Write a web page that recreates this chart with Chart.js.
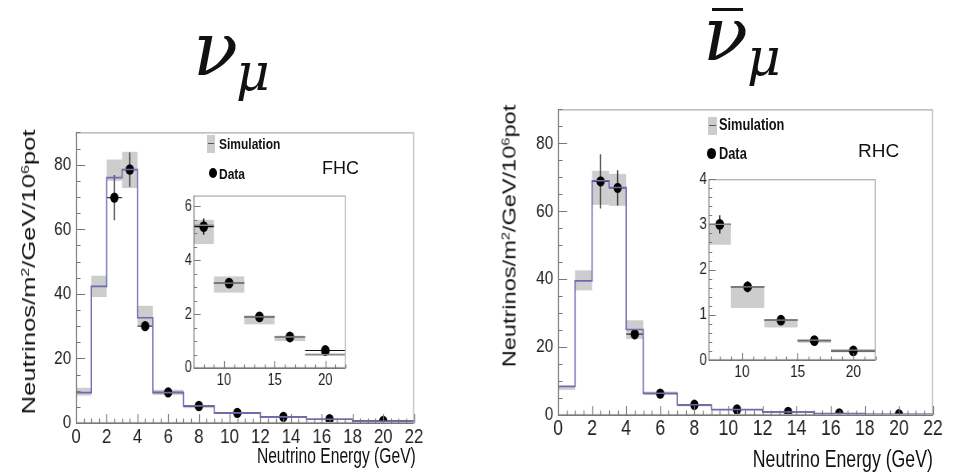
<!DOCTYPE html>
<html>
<head>
<meta charset="utf-8">
<script src="https://cdn.jsdelivr.net/npm/chart.js@4/dist/chart.umd.min.js"></script>
<style>
  body { margin: 0; background: #fff; width: 954px; height: 475px; position: relative; overflow: hidden;
         font-family: 'Liberation Sans', Arial, sans-serif; color: #111; }
  canvas, .abs { position: absolute; }
  .math { font-family: 'DejaVu Serif', 'Liberation Serif', serif; font-style: italic; line-height: 1; white-space: nowrap; }
  .leg { font-weight: bold; white-space: nowrap; line-height: 1; transform: scaleX(0.8); transform-origin: left center; }
  .ytitle { white-space: nowrap; line-height: 1; transform: translate(-50%, -50%) rotate(-90deg) scaleX(1.42); }
  .ytitle sup { font-size: 0.62em; line-height: 0; vertical-align: 0.55em; }
  .xtitle { white-space: nowrap; line-height: 1; transform-origin: right center; }
</style>
</head>
<body>

<!-- titles -->
<div class="abs math" style="left:193px; top:12px; font-size:74px;">ν</div>
<div class="abs math" style="left:236px; top:46px; font-size:52px;">μ</div>
<div class="abs" style="left:712px; top:8px; width:31px; height:3px; background:#111;"></div>
<div class="abs math" style="left:703px; top:-3px; font-size:74px;">ν</div>
<div class="abs math" style="left:747px; top:31px; font-size:52px;">μ</div>

<canvas id="fhcMain"></canvas>
<canvas id="fhcInset"></canvas>
<canvas id="rhcMain"></canvas>
<canvas id="rhcInset"></canvas>

<!-- FHC legend -->
<div class="abs" style="left:207px; top:135px; width:8px; height:18px; background:#cdcdcd;"></div>
<div class="abs" style="left:208px; top:143px; width:6px; height:1px; background:#555;"></div>
<div class="abs leg" style="left:219px; top:136px; font-size:15px;">Simulation</div>
<div class="abs" style="left:209px; top:168px; width:8px; height:10px; border-radius:50%; background:#000;"></div>
<div class="abs leg" style="left:219px; top:166px; font-size:15px;">Data</div>
<div class="abs" style="left:322px; top:159px; font-size:18px; line-height:1;">FHC</div>

<!-- RHC legend -->
<div class="abs" style="left:708px; top:117px; width:9px; height:18px; background:#cdcdcd;"></div>
<div class="abs" style="left:709px; top:125px; width:7px; height:1px; background:#555;"></div>
<div class="abs leg" style="left:719px; top:117px; font-size:16px;">Simulation</div>
<div class="abs" style="left:707px; top:148px; width:9px; height:11px; border-radius:50%; background:#000;"></div>
<div class="abs leg" style="left:719px; top:146px; font-size:16px;">Data</div>
<div class="abs" style="left:858px; top:141px; font-size:19px; line-height:1;">RHC</div>

<!-- axis titles -->
<div class="abs ytitle" style="left:29px; top:272px; font-size:18px;">Neutrinos/m<sup>2</sup>/GeV/10<sup>6</sup>pot</div>
<div class="abs ytitle" style="left:509px; top:236px; font-size:19px; transform: translate(-50%, -50%) rotate(-90deg) scaleX(1.24);">Neutrinos/m<sup>2</sup>/GeV/10<sup>6</sup>pot</div>
<div class="abs xtitle" style="right:538px; top:445px; font-size:22px; transform: scaleX(0.71);">Neutrino Energy (GeV)</div>
<div class="abs xtitle" style="right:21px; top:448px; font-size:23px; transform: scaleX(0.77);">Neutrino Energy (GeV)</div>

<script>
// bin edges (GeV)
const EDGES = [0, 1, 2, 3, 4, 5, 7, 9, 12, 15, 18, 22];

// FHC (neutrino mode)
const FHC_SIM    = [9.4, 42.3, 76, 78.5, 32.6, 9.4, 5.3, 3.15, 1.9, 1.15, 0.5];
const FHC_SIM_LO = [8.5, 39, 75, 72.8, 30.2, 8.7, 4.6, 2.8, 1.62, 1.0, 0.45];
const FHC_SIM_HI = [10.9, 45.6, 81.6, 84, 36.3, 10.3, 5.5, 3.4, 1.95, 1.2, 0.55];
const FHC_DATA   = [null, null, 69.8, 78.5, 30, 9.5, 5.25, 3.15, 1.9, 1.15, 0.65];
const FHC_ERR    = [null, null, 7, 5.3, 1.5, 0.5, 0.3, 0.12, 0.08, 0.06, 0.05];

// RHC (antineutrino mode)
const RHC_SIM    = [8.4, 39.5, 69, 67, 25.2, 6.4, 3.0, 1.62, 0.88, 0.44, 0.22];
const RHC_SIM_LO = [7.4, 36.7, 61.9, 61.6, 22.4, 6.0, 2.55, 1.15, 0.72, 0.38, 0.17];
const RHC_SIM_HI = [8.8, 42.6, 71.9, 71, 27.9, 6.9, 3.0, 1.62, 0.9, 0.45, 0.22];
const RHC_DATA   = [null, null, 68.8, 66.9, 23.8, 6.3, 3.0, 1.62, 0.88, 0.43, 0.2];
const RHC_ERR    = [null, null, 8, 5.2, 1.5, 0.4, 0.2, 0.12, 0.05, 0.04, 0.03];

// tick labels
const MAIN_X_TICKS = [0, 2, 4, 6, 8, 10, 12, 14, 16, 18, 20, 22];
const MAIN_Y_TICKS = [0, 20, 40, 60, 80];
const INSET_X_TICKS = [10, 15, 20];
const FHC_INSET_Y_TICKS = [0, 2, 4, 6];
const RHC_INSET_Y_TICKS = [0, 1, 2, 3, 4];

const FONT = "'Liberation Sans', Arial, sans-serif";
const SQUEEZE = 0.8; // the original figure is narrower than tall

// ROOT-like drawing: uncertainty boxes, error bars, frame and inward ticks
const rootStyle = {
    id: 'rootStyle',
    beforeDatasetsDraw(chart, args, o) {
        let ctx = chart.ctx, a = chart.chartArea, x = chart.scales.x, y = chart.scales.y;
        ctx.save();
        ctx.beginPath();
        ctx.rect(a.left, a.top, a.width, a.height);
        ctx.clip();
        ctx.fillStyle = '#cdcdcd';
        o.lo.forEach((lo, i) => {
            let x0 = x.getPixelForValue(EDGES[i]), x1 = x.getPixelForValue(EDGES[i + 1]);
            let yt = y.getPixelForValue(o.hi[i]), yb = y.getPixelForValue(lo);
            ctx.fillRect(x0, yt, x1 - x0, yb - yt);
        });
        ctx.strokeStyle = o.errColor;
        o.vals.forEach((v, i) => {
            if (v == null) return;
            let c = x.getPixelForValue((EDGES[i] + EDGES[i + 1]) / 2);
            let py = y.getPixelForValue(v);
            ctx.lineWidth = 1.2;
            ctx.beginPath();
            ctx.moveTo(x.getPixelForValue(EDGES[i]), py);
            ctx.lineTo(x.getPixelForValue(EDGES[i + 1]), py);
            ctx.stroke();
            ctx.lineWidth = 1.5;
            ctx.beginPath();
            ctx.moveTo(c, y.getPixelForValue(v + o.errs[i]));
            ctx.lineTo(c, y.getPixelForValue(v - o.errs[i]));
            ctx.stroke();
        });
        ctx.restore();
    },
    afterDraw(chart, args, o) {
        let ctx = chart.ctx, a = chart.chartArea, x = chart.scales.x, y = chart.scales.y;
        ctx.save();
        ctx.lineWidth = 1.2;
        ctx.strokeStyle = '#aaa';
        ctx.strokeRect(a.left + 0.5, a.top + 0.5, a.width - 1, a.height - 1);
        ctx.strokeStyle = '#777';
        ctx.beginPath();
        ctx.moveTo(a.left + 0.5, a.top);
        ctx.lineTo(a.left + 0.5, a.bottom + 0.5);
        ctx.lineTo(a.right, a.bottom + 0.5);
        // x ticks, pointing up
        for (let v = x.min; v <= x.max + 1e-9; v += o.xMinor) {
            let big = Math.abs(v / o.xMajor - Math.round(v / o.xMajor)) < 1e-6;
            let px = Math.round(x.getPixelForValue(v)) + 0.5;
            ctx.moveTo(px, a.bottom);
            ctx.lineTo(px, a.bottom - (big ? o.majorLen : o.majorLen / 2));
        }
        // y ticks, pointing right
        for (let v = y.min; v <= y.max + 1e-9; v += o.yMinor) {
            let big = Math.abs(v / o.yMajor - Math.round(v / o.yMajor)) < 1e-6;
            let py = Math.round(y.getPixelForValue(v)) + 0.5;
            ctx.moveTo(a.left, py);
            ctx.lineTo(a.left + (big ? o.majorLen : o.majorLen / 2) / SQUEEZE, py);
        }
        ctx.stroke();
        ctx.restore();
    }
};

function tickList(list) {
    return scale => { scale.ticks = list.map(v => ({ value: v })); };
}

function stepPoints(sim) {
    let pts = [{ x: EDGES[0], y: 0 }];
    sim.forEach((v, i) => pts.push({ x: EDGES[i], y: v }));
    pts.push({ x: EDGES[EDGES.length - 1], y: sim[sim.length - 1] });
    return pts;
}

function segPoints(sim) {
    let pts = [];
    sim.forEach((v, i) => {
        pts.push({ x: EDGES[i], y: v }, { x: EDGES[i + 1], y: v }, { x: EDGES[i + 1], y: null });
    });
    return pts;
}

function dataPoints(vals) {
    let pts = [];
    vals.forEach((v, i) => {
        if (v != null) pts.push({ x: (EDGES[i] + EDGES[i + 1]) / 2, y: v });
    });
    return pts;
}

// size and place a canvas so that its plot area lands on the given page box
function place(id, box, yw, padT, padR, xh) {
    let c = document.getElementById(id);
    let inner = (box.r - box.l) / SQUEEZE;
    c.width = Math.ceil(yw + inner + padR);
    c.height = padT + (box.b - box.t) + xh;
    c.style.left = (box.l - yw * SQUEEZE) + 'px';
    c.style.top = (box.t - padT) + 'px';
    c.style.transformOrigin = '0 0';
    c.style.transform = 'scaleX(' + SQUEEZE + ')';
    return { top: padT, right: c.width - yw - inner, left: 0, bottom: 0 };
}

function makeChart(id, cfg) {
    let pad = place(id, cfg.box, cfg.yw, cfg.padT, cfg.padR, cfg.xh);
    let ctx = document.getElementById(id).getContext('2d');
    return new Chart(ctx, {
        type: 'line',
        data: {
            datasets: [
                cfg.inset ? {
                    data: segPoints(cfg.sim),
                    borderColor: '#8a8a8a',
                    borderWidth: 1.3,
                    pointRadius: 0,
                    spanGaps: false
                } : {
                    data: stepPoints(cfg.sim),
                    borderColor: '#6b6bb0',
                    borderWidth: 1.6,
                    pointRadius: 0,
                    stepped: 'before'
                },
                {
                    data: dataPoints(cfg.vals),
                    showLine: false,
                    pointRadius: cfg.inset ? 5.4 : 5.2,
                    pointBackgroundColor: '#000',
                    pointBorderColor: '#000',
                    pointBorderWidth: 0
                }
            ]
        },
        options: {
            responsive: false,
            animation: false,
            events: [],
            layout: { padding: pad },
            plugins: {
                legend: { display: false },
                tooltip: { enabled: false },
                rootStyle: {
                    lo: cfg.lo, hi: cfg.hi, vals: cfg.vals, errs: cfg.errs,
                    errColor: cfg.inset ? '#111' : '#333',
                    xMajor: cfg.xMajor, xMinor: cfg.xMinor,
                    yMajor: cfg.yMajor, yMinor: cfg.yMinor,
                    majorLen: cfg.inset ? 7 : 9
                }
            },
            scales: {
                x: {
                    type: 'linear', min: cfg.xMin, max: cfg.xMax,
                    afterBuildTicks: tickList(cfg.xTicks),
                    afterFit: s => { s.height = cfg.xh; },
                    grid: { display: false, drawTicks: false },
                    border: { display: false },
                    ticks: { padding: cfg.xPad, color: '#222', maxRotation: 0, autoSkip: false,
                             font: { family: FONT, size: cfg.xFont } }
                },
                y: {
                    type: 'linear', min: 0, max: cfg.yMax,
                    afterBuildTicks: tickList(cfg.yTicks),
                    afterFit: s => { s.width = cfg.yw; },
                    grid: { display: false, drawTicks: false },
                    border: { display: false },
                    ticks: { padding: cfg.yPad, color: '#222', font: { family: FONT, size: cfg.yFont } }
                }
            }
        },
        plugins: [rootStyle]
    });
}

// main panels
makeChart('fhcMain', {
    sim: FHC_SIM, lo: FHC_SIM_LO, hi: FHC_SIM_HI, vals: FHC_DATA, errs: FHC_ERR,
    xMin: 0, xMax: 22, yMax: 90, xTicks: MAIN_X_TICKS, yTicks: MAIN_Y_TICKS,
    xMajor: 2, xMinor: 0.5, yMajor: 20, yMinor: 5,
    box: { l: 76, r: 414, t: 125, b: 423 }, yw: 50, padT: 10, padR: 26, xh: 32,
    xPad: 2, yPad: 6, xFont: 21, yFont: 19
});
makeChart('rhcMain', {
    sim: RHC_SIM, lo: RHC_SIM_LO, hi: RHC_SIM_HI, vals: RHC_DATA, errs: RHC_ERR,
    xMin: 0, xMax: 22, yMax: 90, xTicks: MAIN_X_TICKS, yTicks: MAIN_Y_TICKS,
    xMajor: 2, xMinor: 0.5, yMajor: 20, yMinor: 5,
    box: { l: 558, r: 933, t: 102, b: 415 }, yw: 50, padT: 10, padR: 22, xh: 32,
    xPad: 1, yPad: 6, xFont: 22, yFont: 19
});

// insets (same bins, zoomed on the tail)
makeChart('fhcInset', {
    inset: true,
    sim: FHC_SIM, lo: FHC_SIM_LO, hi: FHC_SIM_HI, vals: FHC_DATA, errs: FHC_ERR,
    xMin: 7, xMax: 22, yMax: 6.4, xTicks: INSET_X_TICKS, yTicks: FHC_INSET_Y_TICKS,
    xMajor: 5, xMinor: 1, yMajor: 2, yMinor: 0.5,
    box: { l: 194, r: 346, t: 192, b: 368 }, yw: 22, padT: 8, padR: 14, xh: 22,
    xPad: 3, yPad: 2, xFont: 16, yFont: 16
});
makeChart('rhcInset', {
    inset: true,
    sim: RHC_SIM, lo: RHC_SIM_LO, hi: RHC_SIM_HI, vals: RHC_DATA, errs: RHC_ERR,
    xMin: 7, xMax: 22, yMax: 4, xTicks: INSET_X_TICKS, yTicks: RHC_INSET_Y_TICKS,
    xMajor: 5, xMinor: 1, yMajor: 1, yMinor: 0.2,
    box: { l: 709, r: 876, t: 175, b: 360 }, yw: 22, padT: 8, padR: 14, xh: 22,
    xPad: 2, yPad: 2, xFont: 17, yFont: 17
});
</script>
</body>
</html>
